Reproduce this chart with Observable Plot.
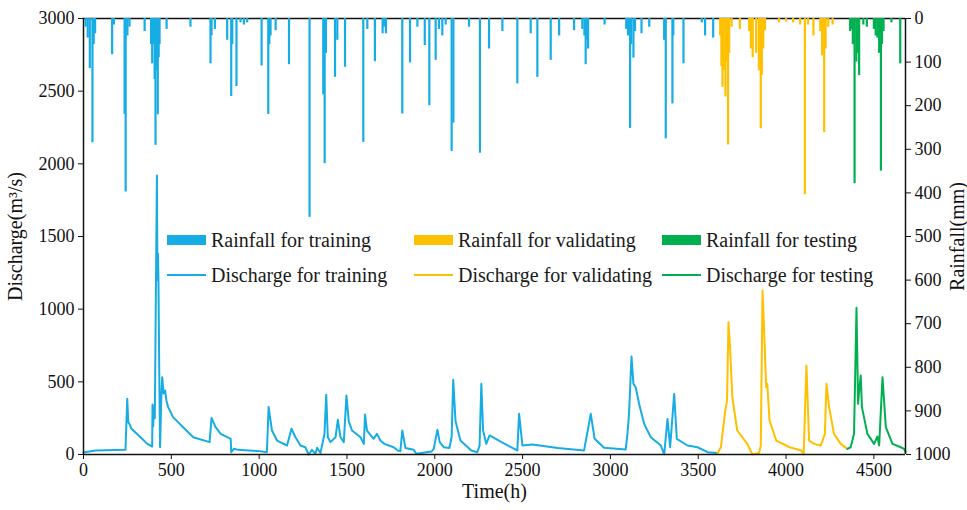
<!DOCTYPE html>
<html><head><meta charset="utf-8">
<script src="https://cdn.jsdelivr.net/npm/d3@7"></script>
<script src="https://cdn.jsdelivr.net/npm/@observablehq/plot@0.6"></script>
<style>
body{margin:0;background:#fff;}
#chart{position:relative;width:967px;height:510px;font-family:"Liberation Serif","Times New Roman",serif;background:#fff;}
#chart svg{position:absolute;left:0;top:0;}
.lg{position:absolute;font-size:20px;line-height:24px;color:#1a1a1a;white-space:nowrap;}
.sw{position:absolute;}
</style></head><body><div id="chart"></div>
<script>
const BLUE = "#17ade4", YELLOW = "#ffc000", GREEN = "#00b050";

// time (h) ticks and discharge / rainfall ticks
const xTicks = [0,500,1000,1500,2000,2500,3000,3500,4000,4500];
const qTicks = [0,500,1000,1500,2000,2500,3000];
const rTicks = [0,100,200,300,400,500,600,700,800,900,1000];

// Discharge (m3/s) [time, value]
const dischargeTraining = [[0,14],[68,28],[239,32],[249,383],[255,222],[262,210],[273,177],[325,119],[363,73],[391,55],[393,344],[397,195],[400,330],[406,250],[412,1100],[418,1920],[421,1200],[424,1383],[427,1177],[431,600],[436,50],[443,400],[448,532],[456,420],[465,440],[472,372],[482,326],[510,257],[567,188],[625,119],[718,85],[729,252],[752,188],[781,142],[838,108],[841,16],[856,39],[880,32],[1006,23],[1044,16],[1054,326],[1073,165],[1102,96],[1159,62],[1184,177],[1207,119],[1235,62],[1263,50],[1282,0],[1301,32],[1320,5],[1330,46],[1349,10],[1372,142],[1382,411],[1391,119],[1406,85],[1435,119],[1448,239],[1463,119],[1482,85],[1497,406],[1510,230],[1529,165],[1577,119],[1596,73],[1603,275],[1614,165],[1652,108],[1671,142],[1690,96],[1713,73],[1766,50],[1789,28],[1804,23],[1815,165],[1833,45],[1880,32],[1895,5],[1981,20],[1994,39],[2015,170],[2028,85],[2051,50],[2083,45],[2096,120],[2105,514],[2118,230],[2146,96],[2208,28],[2242,16],[2255,60],[2265,486],[2275,165],[2293,73],[2312,131],[2380,85],[2470,28],[2480,280],[2499,62],[2556,69],[2700,45],[2850,28],[2888,280],[2910,108],[2964,46],[3087,35],[3097,142],[3106,280],[3120,674],[3131,486],[3144,463],[3163,349],[3192,211],[3230,119],[3287,62],[3306,0],[3325,245],[3340,50],[3363,417],[3378,108],[3439,62],[3496,50],[3553,16],[3610,10]];
const dischargeValidating = [[3610,10],[3629,50],[3654,303],[3664,372],[3672,910],[3681,738],[3694,394],[3722,165],[3779,73],[3808,0],[3846,10],[3856,60],[3866,1128],[3875,853],[3887,463],[3893,486],[3906,234],[3944,96],[4020,50],[4087,28],[4100,0],[4116,612],[4131,96],[4160,73],[4198,62],[4221,142],[4230,486],[4245,326],[4273,142],[4311,73],[4349,39]];
const dischargeTesting = [[4349,39],[4368,50],[4387,142],[4401,1009],[4410,349],[4416,440],[4425,543],[4432,326],[4463,142],[4501,73],[4520,124],[4530,62],[4549,532],[4568,188],[4606,73],[4653,50],[4672,39],[4680,16]];

// Rainfall (mm) [time, value]
const rainTraining = [[12,20],[24,45],[36,115],[51,285],[58,60],[66,35],[163,83],[173,15],[234,220],[240,398],[250,40],[262,20],[348,30],[385,60],[391,104],[400,60],[405,140],[410,291],[416,120],[423,221],[428,90],[433,60],[473,25],[609,20],[723,104],[729,40],[748,25],[818,50],[841,179],[847,60],[871,156],[894,10],[913,15],[932,10],[1014,109],[1052,220],[1058,60],[1065,40],[1094,28],[1170,106],[1287,456],[1365,175],[1373,333],[1380,80],[1432,135],[1445,50],[1489,112],[1593,284],[1616,25],[1659,99],[1703,35],[1712,20],[1722,35],[1815,219],[1859,102],[1901,20],[1943,62],[1969,200],[2005,96],[2024,25],[2043,40],[2062,15],[2096,305],[2106,240],[2195,20],[2257,309],[2309,70],[2385,30],[2470,150],[2546,35],[2584,135],[2660,96],[2708,40],[2793,28],[2840,25],[2852,40],[2859,106],[2866,50],[2873,70],[2967,15],[3090,25],[3100,40],[3112,252],[3118,60],[3131,91],[3140,30],[3177,35],[3221,20],[3306,50],[3315,276],[3353,196],[3358,40],[3416,104],[3520,10],[3539,40],[3585,45]];
const rainValidating = [[3625,40],[3632,110],[3638,158],[3645,120],[3655,180],[3664,100],[3670,290],[3676,80],[3690,20],[3737,25],[3790,30],[3800,70],[3810,90],[3830,80],[3845,120],[3856,253],[3862,130],[3870,70],[3880,28],[3960,10],[4000,8],[4040,10],[4080,15],[4107,404],[4125,15],[4156,40],[4195,30],[4205,86],[4217,262],[4225,70],[4240,20],[4265,15]];
const rainTesting = [[4365,30],[4369,25],[4380,60],[4390,379],[4400,100],[4410,80],[4416,131],[4440,15],[4460,20],[4500,25],[4510,40],[4520,45],[4530,80],[4540,350],[4546,60],[4555,30],[4600,10],[4650,104]];

const legendLabels = ["Rainfall for training","Rainfall for validating","Rainfall for testing","Discharge for training","Discharge for validating","Discharge for testing"];

const W = 967, H = 510;
const M = {marginLeft:83, marginRight:62, marginTop:18, marginBottom:56};
const font = {fontFamily:"Liberation Serif, Times New Roman, serif", fontSize:"18px", color:"#111", background:"transparent", overflow:"visible"};
const X = d => d[0], V = d => d[1];
const fmt = d => String(d);

const discharge = Plot.plot({
  width:W, height:H, ...M, style:font,
  x:{domain:[0,4680]}, y:{domain:[0,3000]},
  marks:[
    Plot.line(dischargeTraining,{x:X,y:V,stroke:BLUE,strokeWidth:2}),
    Plot.line(dischargeValidating,{x:X,y:V,stroke:YELLOW,strokeWidth:2}),
    Plot.line(dischargeTesting,{x:X,y:V,stroke:GREEN,strokeWidth:2}),
    Plot.axisX({ticks:xTicks, tickFormat:fmt, tickSize:5, tickPadding:4, label:null, stroke:"#111", fontSize:18}),
    Plot.axisY({ticks:qTicks, tickFormat:fmt, tickSize:5, tickPadding:4, label:null, stroke:"#111", fontSize:18}),
    Plot.ruleX([0],{stroke:"#111",strokeWidth:1.5}),
    Plot.ruleY([0],{stroke:"#111",strokeWidth:1.5}),
    Plot.ruleY([3000],{stroke:"#111",strokeWidth:1.5}),
    Plot.text(["Time(h)"],{frameAnchor:"bottom", dy:43, fontSize:20, fill:"#111"}),
    Plot.text(["Discharge(m³/s)"],{frameAnchor:"left", textAnchor:"middle", dx:-68, rotate:-90, fontSize:20, fill:"#111"})
  ]
});

const rainfall = Plot.plot({
  width:W, height:H, ...M, style:font,
  x:{domain:[0,4680], axis:null}, y:{domain:[0,1000], reverse:true},
  marks:[
    Plot.ruleX(rainTraining,{x:X,y1:0,y2:V,stroke:BLUE,strokeWidth:2.2}),
    Plot.ruleX(rainValidating,{x:X,y1:0,y2:V,stroke:YELLOW,strokeWidth:2.2}),
    Plot.ruleX(rainTesting,{x:X,y1:0,y2:V,stroke:GREEN,strokeWidth:2.2}),
    Plot.axisY({anchor:"right", ticks:rTicks, tickFormat:fmt, tickSize:5, tickPadding:4, label:null, stroke:"#111", fontSize:18}),
    Plot.ruleX([4680],{stroke:"#111",strokeWidth:1.5}),
    Plot.text(["Rainfall(mm)"],{frameAnchor:"right", textAnchor:"middle", dx:52, rotate:-90, fontSize:20, fill:"#111"})
  ]
});

const chart = document.getElementById("chart");
chart.append(discharge);
chart.append(rainfall);

// legend
const colX = [167, 414, 662];
const colors = [BLUE, YELLOW, GREEN];
const rows = [240, 275];
for (let r = 0; r < 2; r++) {
  for (let c = 0; c < 3; c++) {
    const sw = document.createElement("div");
    sw.className = "sw";
    const h = r === 0 ? 10 : 2;
    sw.style.cssText = `left:${colX[c]}px;top:${rows[r]-h/2}px;width:39px;height:${h}px;background:${colors[c]};`;
    chart.append(sw);
    const t = document.createElement("div");
    t.className = "lg";
    t.style.cssText = `left:${colX[c]+44}px;top:${rows[r]-12}px;`;
    t.textContent = legendLabels[r*3+c];
    chart.append(t);
  }
}
</script></body></html>
